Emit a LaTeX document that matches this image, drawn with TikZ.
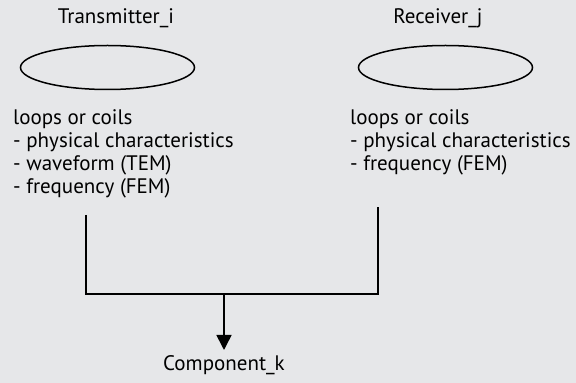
\documentclass[tikz,border=0pt]{standalone}
\usepackage{fontspec}
\setmainfont{PT Sans}
\usetikzlibrary{shapes.geometric,arrows.meta}
\definecolor{paper}{RGB}{230,231,233}
\begin{document}
\begin{tikzpicture}[x=1pt,y=1pt]
        \tikzstyle{every node} = [font=\fontsize{21}{23.3}\selectfont]
        \tikzstyle{coil} = [ellipse,draw,line width=1.5pt,minimum width=174pt,minimum height=44pt,inner sep=0pt]
        \tikzstyle{notes} = [align=left,anchor=north west,inner sep=0pt]
        \tikzstyle{wire} = [line width=1.6pt]
            \fill[paper] (0,0) rectangle (576,383);
            \begin{scope}
                % transmitter side
                \node (txname) at (116,365) {Transmitter\_i};
                \node[coil] (tx) at (107.5,315.5) {};
                \node[notes] (txnotes) at (13,274) {loops or coils\\- physical characteristics\\- waveform (TEM)\\- frequency (FEM)};

                % receiver side
                \node (rxname) at (438,365) {Receiver\_j};
                \node[coil] (rx) at (445.5,315.5) {};
                \node[notes] (rxnotes) at (350,274) {loops or coils\\- physical characteristics\\- frequency (FEM)};

                % merging lines
                \coordinate (txend) at (86,168);
                \coordinate (rxend) at (378,176);
                \coordinate (join) at (224,89);
                \node[anchor=north,inner sep=5pt] (comp) at (224,33) {Component\_k};
                \draw[wire] (txend) -- (txend |- join) -- (rxend |- join) -- (rxend);
                \draw[wire,-{Triangle[length=15pt,width=15pt]}] (join) -- (comp);
            \end{scope}
\end{tikzpicture}
\end{document}
